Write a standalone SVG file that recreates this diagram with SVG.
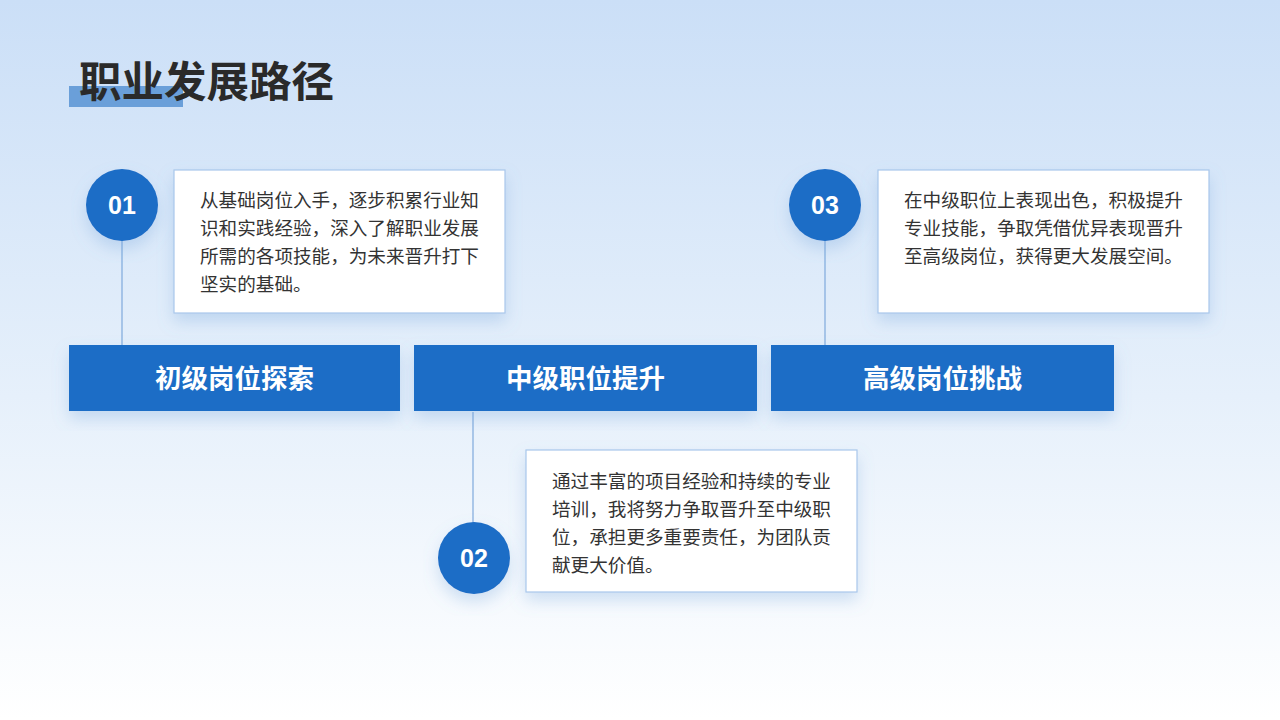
<svg xmlns="http://www.w3.org/2000/svg" width="1280" height="720" viewBox="0 0 1280 720">
<defs>
<linearGradient id="bg" x1="0" y1="0" x2="0" y2="1">
<stop offset="0" stop-color="#cbdff7"/>
<stop offset="0.55" stop-color="#e6f0fb"/>
<stop offset="1" stop-color="#ffffff"/>
</linearGradient>
<filter id="sh" x="-20%" y="-20%" width="140%" height="150%">
<feDropShadow dx="0" dy="8" stdDeviation="8" flood-color="#6f9fd8" flood-opacity="0.3"/>
</filter>
</defs>
<style>
.card{fill:#ffffff;stroke:#a8c7ec;stroke-width:1.2}
.bar{fill:#1c6dc6}
.circ{fill:#1c6dc6}
.line{stroke:#7fa9dc;stroke-width:1.2;fill:none}
.num{font-family:"Liberation Sans",Arial,sans-serif;font-weight:bold;font-size:25px;fill:#ffffff;text-anchor:middle}
.lbl{font-family:"Noto Sans CJK SC","Noto Sans",sans-serif;font-weight:bold;font-size:26.5px;fill:#ffffff;text-anchor:middle}
.txt{font-family:"Noto Sans CJK SC","Noto Sans",sans-serif;font-size:18.6px;fill:#333333}
.title{font-family:"Noto Sans CJK SC","Noto Sans",sans-serif;font-weight:bold;font-size:42.5px;fill:#2a2a2a}
</style>
<rect width="1280" height="720" fill="url(#bg)"/>
<g id="title">
<rect x="69" y="86" width="114" height="21" fill="#6a9fd9"/>
<text class="title" x="79" y="97">职业发展路径</text>
</g>
<g id="connectors">
<line class="line" x1="122" y1="240" x2="122" y2="345"/>
<line class="line" x1="473" y1="412" x2="473" y2="523"/>
<line class="line" x1="825" y1="240" x2="825" y2="345"/>
</g>
<g id="card1">
<rect class="card" x="174" y="170" width="331" height="143" filter="url(#sh)"/>
<text class="txt" x="200" y="207">从基础岗位入手，逐步积累行业知</text>
<text class="txt" x="200" y="235">识和实践经验，深入了解职业发展</text>
<text class="txt" x="200" y="263">所需的各项技能，为未来晋升打下</text>
<text class="txt" x="200" y="291">坚实的基础。</text>
</g>
<g id="card3">
<rect class="card" x="878" y="170" width="331" height="143" filter="url(#sh)"/>
<text class="txt" x="904" y="207">在中级职位上表现出色，积极提升</text>
<text class="txt" x="904" y="235">专业技能，争取凭借优异表现晋升</text>
<text class="txt" x="904" y="263">至高级岗位，获得更大发展空间。</text>
</g>
<g id="card2">
<rect class="card" x="526" y="450" width="331" height="142" filter="url(#sh)"/>
<text class="txt" x="552" y="488">通过丰富的项目经验和持续的专业</text>
<text class="txt" x="552" y="516">培训，我将努力争取晋升至中级职</text>
<text class="txt" x="552" y="544">位，承担更多重要责任，为团队贡</text>
<text class="txt" x="552" y="572">献更大价值。</text>
</g>
<g id="circle1">
<circle class="circ" cx="122" cy="205" r="36" filter="url(#sh)"/>
<text class="num" x="122" y="214">01</text>
</g>
<g id="circle3">
<circle class="circ" cx="825" cy="205" r="36" filter="url(#sh)"/>
<text class="num" x="825" y="214">03</text>
</g>
<g id="circle2">
<circle class="circ" cx="474" cy="558" r="36" filter="url(#sh)"/>
<text class="num" x="474" y="567">02</text>
</g>
<g id="bar1">
<rect class="bar" x="69" y="345" width="331" height="66" filter="url(#sh)"/>
<text class="lbl" x="234.5" y="388">初级岗位探索</text>
</g>
<g id="bar2">
<rect class="bar" x="414" y="345" width="343" height="66" filter="url(#sh)"/>
<text class="lbl" x="585.5" y="388">中级职位提升</text>
</g>
<g id="bar3">
<rect class="bar" x="771" y="345" width="343" height="66" filter="url(#sh)"/>
<text class="lbl" x="942.5" y="388">高级岗位挑战</text>
</g>
</svg>
